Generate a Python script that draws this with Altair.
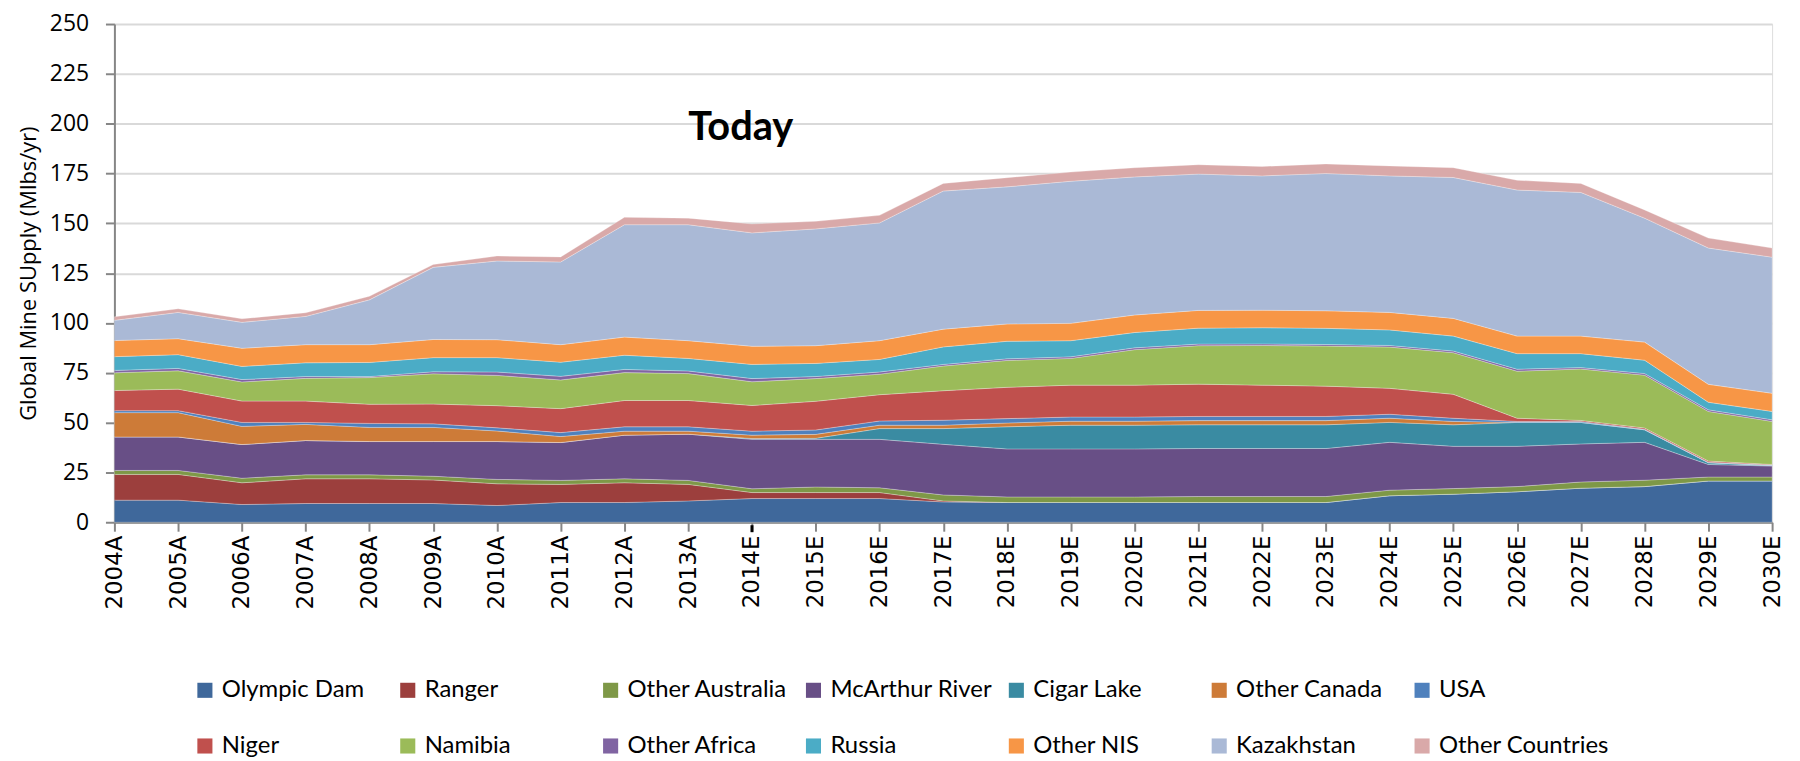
import altair as alt
import pandas as pd

YEARS = ["2004A", "2005A", "2006A", "2007A", "2008A", "2009A", "2010A", "2011A", "2012A", "2013A",
         "2014E", "2015E", "2016E", "2017E", "2018E", "2019E", "2020E", "2021E", "2022E", "2023E",
         "2024E", "2025E", "2026E", "2027E", "2028E", "2029E", "2030E"]

SERIES = ["Olympic Dam", "Ranger", "Other Australia", "McArthur River", "Cigar Lake", "Other Canada", "USA",
          "Niger", "Namibia", "Other Africa", "Russia", "Other NIS", "Kazakhstan", "Other Countries"]

COLORS = ["#3F689B", "#9C3F3D", "#7E9847", "#684F86", "#3A8BA2", "#CD7B38", "#4F81BD",
          "#C0504D", "#9BBB59", "#8064A2", "#4BACC6", "#F79646", "#AAB9D6", "#D9A9A9"]

olympic_dam = [11.1, 11.1, 8.9, 9.4, 9.4, 9.4, 8.4, 9.9, 9.9, 10.7, 11.9, 11.9, 11.9, 10.2, 9.9, 9.9, 9.9,
               9.9, 9.9, 9.9, 13.3, 14.1, 15.3, 17.1, 17.9, 20.7, 20.7]
ranger = [12.9, 12.9, 10.9, 12.4, 12.4, 11.8, 10.9, 9.1, 9.9, 8.3, 3.0, 3.0, 3.0, 0.5, 0, 0, 0,
          0, 0, 0, 0, 0, 0, 0, 0, 0, 0]
other_australia = [2.0, 2.0, 2.3, 2.0, 2.0, 1.9, 2.2, 2.0, 2.0, 2.0, 1.9, 2.8, 2.4, 3.0, 2.8, 2.8, 2.8,
                   3.0, 3.0, 3.0, 2.8, 2.8, 2.6, 3.1, 3.2, 2.0, 2.0]
mcarthur_river = [16.8, 16.8, 16.9, 17.2, 16.7, 17.4, 19.0, 19.0, 21.9, 23.2, 24.8, 23.9, 24.3, 25.4, 24.1,
                  24.1, 24.1, 24.1, 24.1, 24.1, 24.0, 21.2, 20.2, 19.1, 19.0, 6.3, 5.5]
cigar_lake = [0, 0, 0, 0, 0, 0, 0, 0, 0, 0, 0.4, 0.5, 5.4, 7.9, 11.1, 11.9, 11.9,
              11.9, 11.9, 11.9, 10.0, 10.8, 12.0, 10.8, 6.3, 0.9, 0.3]
other_canada = [12.2, 12.2, 9.1, 8.1, 7.1, 7.1, 5.3, 3.0, 2.0, 1.5, 1.7, 2.0, 1.7, 1.7, 1.9, 2.0, 2.0,
                2.1, 2.1, 2.1, 2.1, 1.7, 0, 0, 0, 0, 0]
usa = [1.0, 1.0, 2.0, 1.0, 2.0, 1.8, 1.6, 2.0, 2.2, 2.2, 2.0, 2.2, 2.1, 2.5, 2.2, 2.1, 2.1,
       2.1, 2.1, 2.1, 2.0, 1.6, 0.5, 0.4, 0.3, 0.2, 0.2]
niger = [10.1, 10.8, 10.7, 10.7, 9.6, 9.9, 11.1, 12.0, 13.2, 13.2, 12.9, 14.4, 13.2, 14.8, 15.7, 16.0, 16.0,
         16.2, 15.7, 15.2, 13.0, 12.0, 1.6, 0.6, 0.6, 0.6, 0.3]
namibia = [8.9, 9.2, 9.6, 11.4, 13.4, 15.2, 15.2, 14.4, 14.0, 13.5, 11.9, 11.4, 10.3, 12.4, 13.5, 13.4, 17.8,
           19.3, 19.9, 20.1, 20.7, 20.9, 23.6, 25.8, 26.5, 24.9, 21.6]
other_africa = [1.2, 1.2, 1.2, 0.9, 0.5, 1.0, 1.7, 1.8, 1.6, 1.3, 1.6, 1.0, 1.1, 0.8, 0.8, 0.8, 0.9,
                0.8, 0.8, 0.8, 0.8, 0.8, 1.0, 0.7, 0.8, 0.8, 0.8]
russia = [6.9, 6.9, 6.6, 6.9, 7.1, 7.1, 7.2, 7.1, 7.1, 6.3, 7.1, 6.6, 6.3, 8.8, 8.8, 8.1, 7.7,
          8.0, 8.1, 8.1, 7.8, 7.5, 7.8, 7.0, 6.7, 3.8, 4.2]
other_nis = [8.1, 8.0, 9.1, 9.1, 8.9, 9.1, 9.0, 8.8, 9.1, 8.9, 9.1, 8.9, 9.4, 8.9, 8.7, 8.7, 8.8,
             8.9, 8.8, 8.8, 8.8, 8.9, 8.8, 8.8, 9.1, 9.0, 9.1]
kazakhstan = [10.1, 13.2, 13.0, 14.2, 22.5, 36.2, 39.5, 41.5, 56.4, 58.2, 56.9, 58.6, 59.1, 69.3, 68.8, 71.3,
              69.3, 68.4, 67.4, 68.9, 68.5, 70.7, 73.3, 72.1, 62.2, 68.4, 68.3]
other_countries = [1.8, 1.8, 1.8, 1.8, 1.8, 1.4, 2.5, 2.5, 3.7, 3.3, 4.5, 3.8, 3.8, 3.8, 4.6, 4.6, 4.6,
                   4.7, 4.7, 4.8, 5.0, 4.9, 4.9, 4.5, 4.1, 5.0, 4.6]

VALUES = [olympic_dam, ranger, other_australia, mcarthur_river, cigar_lake, other_canada, usa,
          niger, namibia, other_africa, russia, other_nis, kazakhstan, other_countries]

Y_TICKS = list(range(0, 251, 25))
Y_TITLE = "Global Mine SUpply (Mlbs/yr)"
ANNOTATION = "Today"
ANNOTATION_YEAR = "2013A"
ANNOTATION_VALUE = 192
MARKER_YEAR = "2014E"

rows = []
for i, (name, vals) in enumerate(zip(SERIES, VALUES)):
    for y, v in zip(YEARS, vals):
        rows.append({"year": y, "series": name, "value": v, "idx": i})
df = pd.DataFrame(rows)

PLOT_W = 1667
PLOT_H = 501

x_scale = alt.Scale(type="point", domain=YEARS, padding=0)

x_enc = alt.X(
    "year:O",
    sort=YEARS,
    scale=x_scale,
    axis=alt.Axis(
        title=None, labelAngle=-90, labelFont="DejaVu Sans", labelFontSize=23, labelColor="black",
        tickColor="#868686", tickSize=9, tickWidth=2, domainColor="#868686", domainWidth=2,
        labelPadding=4, grid=False,
    ),
)

areas = alt.Chart(df).mark_area(
    interpolate="linear", opacity=1, stroke="white", strokeWidth=0.6, strokeOpacity=0.45
).encode(
    x=x_enc,
    y=alt.Y(
        "value:Q",
        stack="zero",
        scale=alt.Scale(domain=[0, 250], nice=False),
        axis=alt.Axis(
            values=Y_TICKS, title=Y_TITLE, titleFont="Open Sans", titleFontSize=22,
            titleFontWeight="normal", titleColor="black", titlePadding=9,
            labelFont="Open Sans", labelFontSize=23, labelColor="black", labelPadding=17,
            tickColor="#868686", tickSize=9, tickWidth=2, domainColor="#868686", domainWidth=2,
            gridColor="#D9D9D9", gridWidth=2,
        ),
    ),
    color=alt.Color(
        "series:N",
        scale=alt.Scale(domain=SERIES, range=COLORS),
        legend=alt.Legend(
            orient="none", legendX=79, legendY=658, direction="horizontal", columns=7,
            title=None, symbolType="square", symbolSize=230, symbolStrokeWidth=0, symbolOpacity=1,
            labelFont="Lato", labelFontSize=24, labelColor="black",
            labelOffset=5, labelLimit=400, columnPadding=4, rowPadding=32, gridAlign="all",
        ),
    ),
    order=alt.Order("idx:Q", sort="ascending"),
)

ann_df = pd.DataFrame({"year": [ANNOTATION_YEAR], "value": [ANNOTATION_VALUE], "label": [ANNOTATION]})
today = alt.Chart(ann_df).mark_text(
    align="left", baseline="alphabetic", font="Lato", fontWeight="bold",
    fontSize=40, color="black",
).encode(x=alt.X("year:O", sort=YEARS, scale=x_scale), y=alt.Y("value:Q"), text="label:N")

mk_df = pd.DataFrame({"year": [MARKER_YEAR]})
marker = alt.Chart(mk_df).mark_rule(color="black", strokeWidth=3).encode(
    x=alt.X("year:O", sort=YEARS, scale=x_scale), y=alt.value(PLOT_H + 3), y2=alt.value(PLOT_H + 10)
)

chart = alt.layer(areas, today, marker).properties(
    width=PLOT_W, height=PLOT_H,
    autosize=alt.AutoSizeParams(type="none"),
    padding={"left": 107, "top": 14, "right": 20, "bottom": 245},
).configure_view(strokeWidth=0).configure(background="white")

chart.save("out.html", embed_options={"renderer": "svg", "actions": False})
